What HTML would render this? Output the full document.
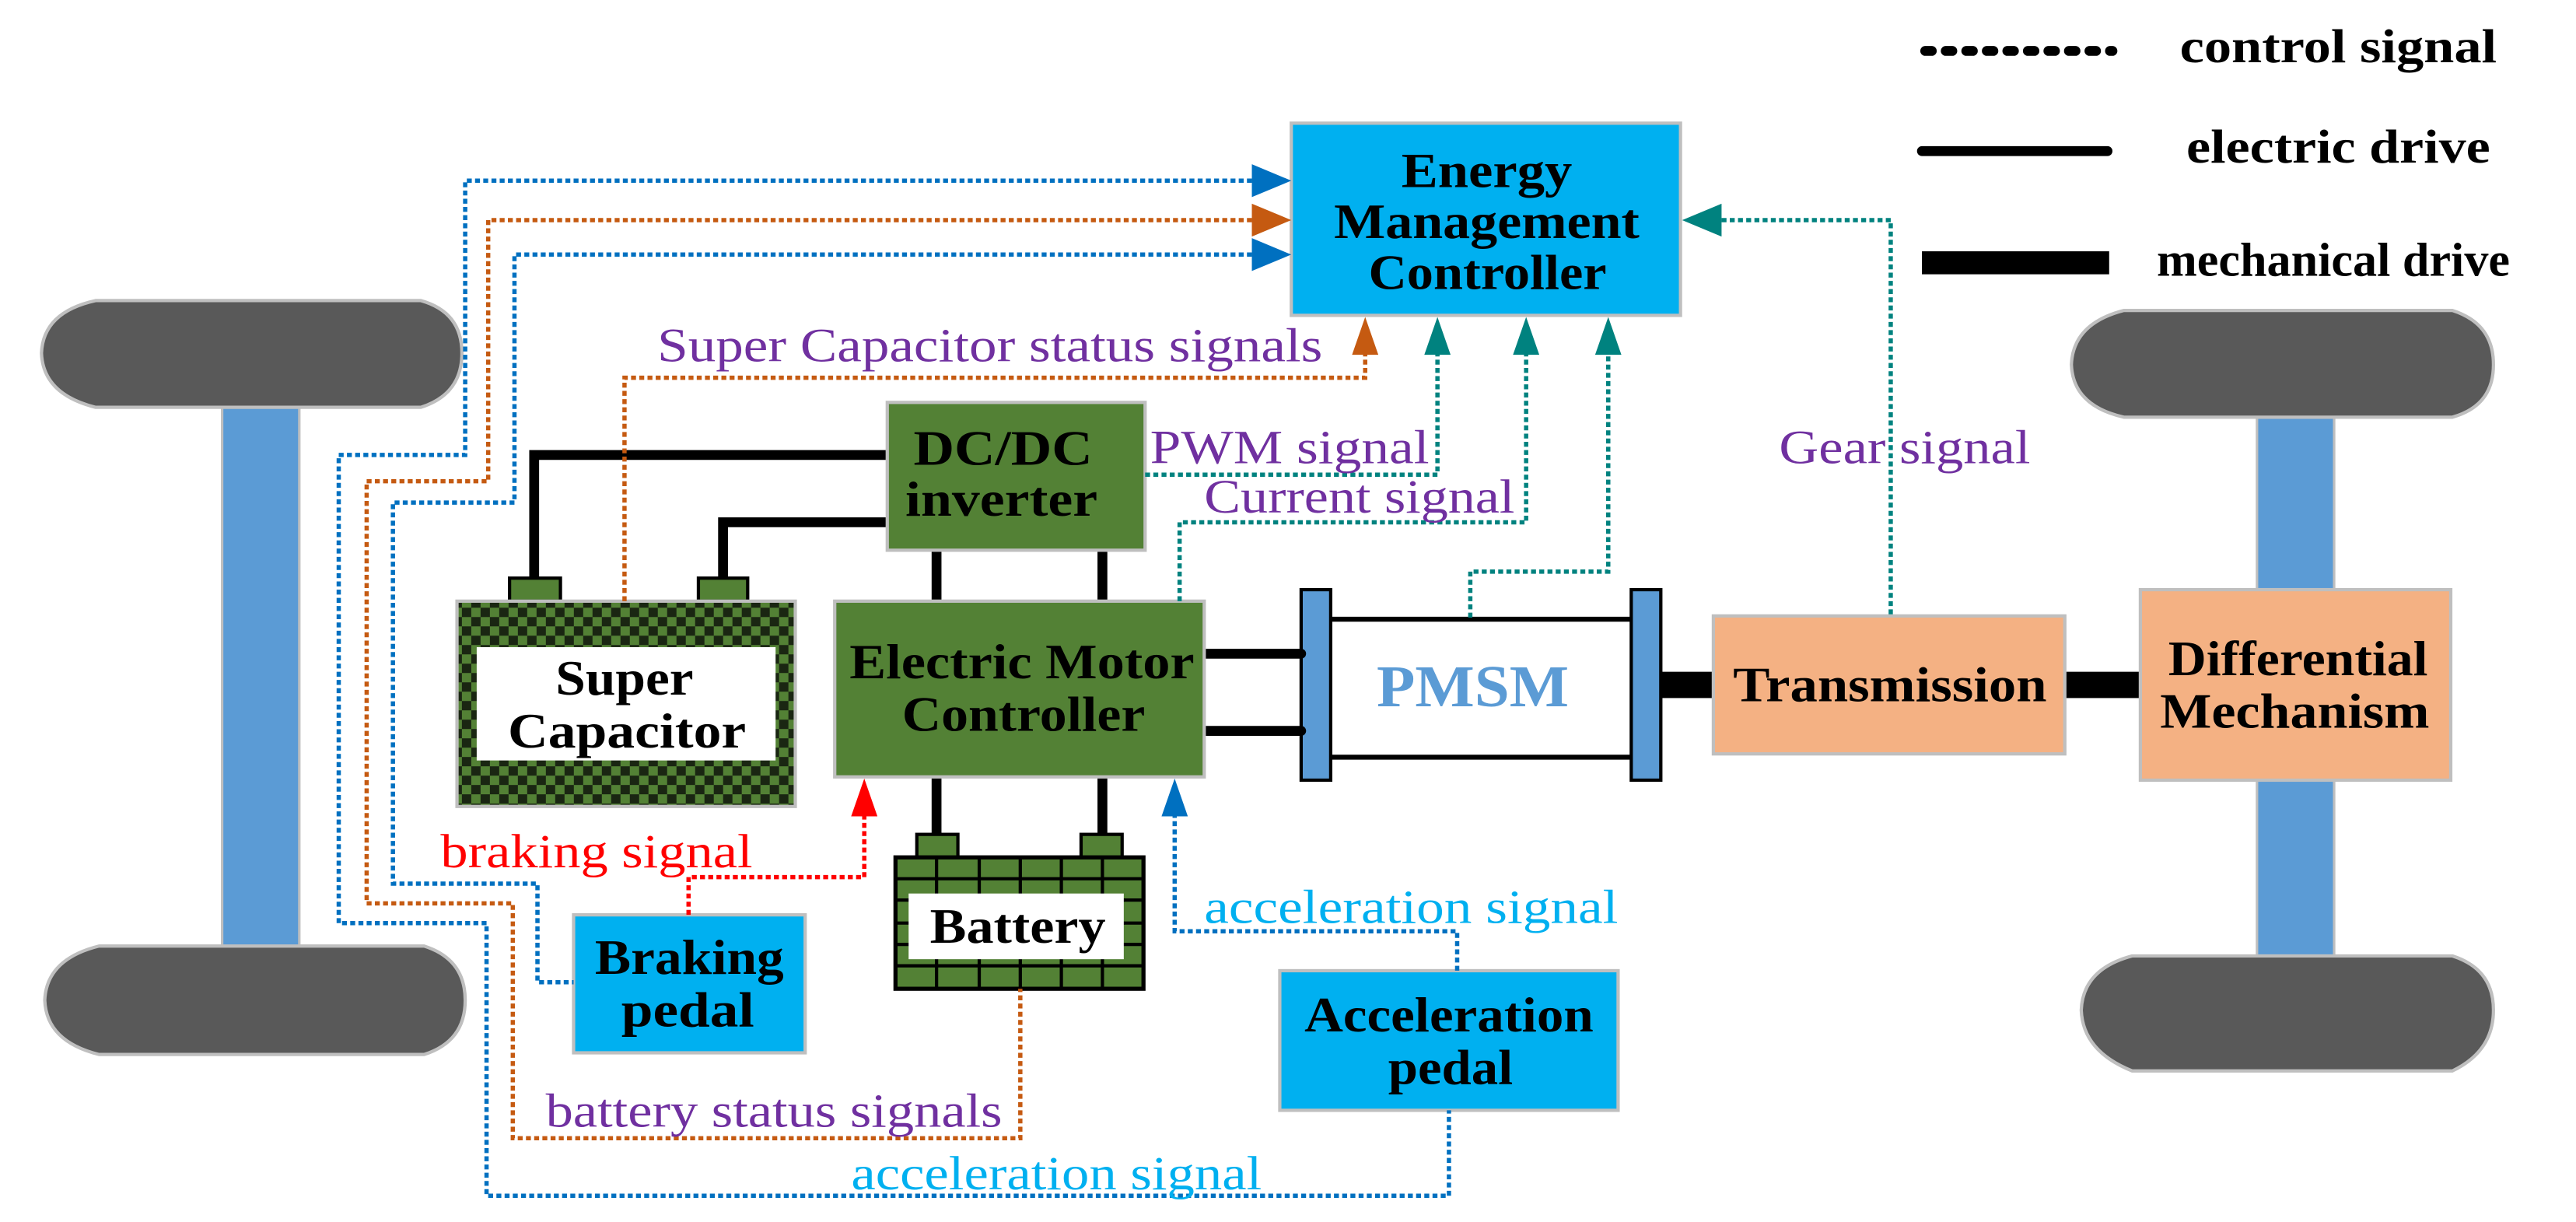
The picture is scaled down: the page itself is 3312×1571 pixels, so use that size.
<!DOCTYPE html>
<html><head><meta charset="utf-8"><style>html,body{margin:0;padding:0;background:#fff}svg{display:block}</style></head>
<body>
<svg xmlns="http://www.w3.org/2000/svg" width="3312" height="1571" viewBox="0 0 1568 744" font-family="'Liberation Serif', serif">
<defs>
<pattern id="chk" width="11.36" height="11.36" patternUnits="userSpaceOnUse" x="281" y="370">
<rect width="11.36" height="11.36" fill="#538135"/>
<rect width="5.68" height="5.68" fill="#1a2612"/>
<rect x="5.68" y="5.68" width="5.68" height="5.68" fill="#1a2612"/>
</pattern>
</defs>
<rect width="1568" height="744" fill="#fff"/>

<!-- Legend -->
<line x1="1172" y1="31" x2="1286" y2="31" stroke="#000" stroke-width="6" stroke-dasharray="4 8.5" stroke-linecap="round"/>
<text x="1327" y="38" font-size="29" font-weight="bold" textLength="193" lengthAdjust="spacingAndGlyphs">control signal</text>
<line x1="1170" y1="92" x2="1283" y2="92" stroke="#000" stroke-width="6" stroke-linecap="round"/>
<text x="1331" y="99" font-size="29" font-weight="bold" textLength="185" lengthAdjust="spacingAndGlyphs">electric drive</text>
<rect x="1170" y="153" width="114" height="14" fill="#000"/>
<text x="1313" y="168" font-size="29" font-weight="bold" textLength="215" lengthAdjust="spacingAndGlyphs">mechanical drive</text>

<!-- Left wheels -->
<rect x="135" y="246" width="47" height="332" fill="#5b9bd5" stroke="#bfbfbf" stroke-width="1.5"/>
<path d="M58,183 H256 Q281,190 281,215 Q281,240 256,248 H58 Q26,240 25,215 Q26,190 58,183 Z" fill="#595959" stroke="#bfbfbf" stroke-width="2"/>
<path d="M60,576 H258 Q283,584 283,609 Q283,634 258,642 H60 Q28,634 27,609 Q28,584 60,576 Z" fill="#595959" stroke="#bfbfbf" stroke-width="2"/>

<!-- Right wheels -->
<rect x="1374" y="252" width="47" height="332" fill="#5b9bd5" stroke="#bfbfbf" stroke-width="1.5"/>
<path d="M1293,189 H1493 Q1518,197 1518,222 Q1518,247 1493,254 H1293 Q1262,247 1261,222 Q1262,197 1293,189 Z" fill="#595959" stroke="#bfbfbf" stroke-width="2"/>
<path d="M1298,582 H1493 Q1518,590 1518,615 Q1518,640 1493,652 H1298 Q1268,640 1267,615 Q1268,590 1298,582 Z" fill="#595959" stroke="#bfbfbf" stroke-width="2"/>

<!-- Mechanical links -->
<rect x="1011" y="409" width="33" height="16" fill="#000"/>
<rect x="1257" y="409" width="47" height="16" fill="#000"/>

<g font-size="30" font-weight="bold">
<rect x="1303" y="359" width="189" height="116" fill="#f4b183" stroke="#bfbfbf" stroke-width="2"/>
<text x="1320" y="411" textLength="158" lengthAdjust="spacingAndGlyphs">Differential</text>
<text x="1315" y="443" textLength="164" lengthAdjust="spacingAndGlyphs">Mechanism</text>

<rect x="1043" y="375" width="214" height="84" fill="#f4b183" stroke="#bfbfbf" stroke-width="2"/>
<text x="1055" y="427" textLength="191" lengthAdjust="spacingAndGlyphs">Transmission</text>

<line x1="810" y1="377" x2="993" y2="377" stroke="#000" stroke-width="3"/>
<line x1="810" y1="461" x2="993" y2="461" stroke="#000" stroke-width="3"/>
<rect x="792" y="359" width="18" height="116" fill="#5b9bd5" stroke="#000" stroke-width="2"/>
<rect x="993" y="359" width="18" height="116" fill="#5b9bd5" stroke="#000" stroke-width="2"/>
<text x="838" y="430" font-size="36" fill="#5b9bd5" textLength="117" lengthAdjust="spacingAndGlyphs">PMSM</text>

<g stroke="#000" stroke-width="6" fill="none" stroke-linecap="round">
<line x1="733" y1="398" x2="792" y2="398"/>
<line x1="733" y1="445" x2="792" y2="445"/>
<line x1="570" y1="335" x2="570" y2="366"/>
<line x1="671" y1="335" x2="671" y2="366"/>
<line x1="570" y1="473" x2="570" y2="512"/>
<line x1="671" y1="473" x2="671" y2="512"/>
<polyline points="540,277 325,277 325,355"/>
<polyline points="540,318 440,318 440,355"/>
</g>

<rect x="540" y="245" width="157" height="90" fill="#538135" stroke="#bfbfbf" stroke-width="2"/>
<text x="556" y="283" textLength="109" lengthAdjust="spacingAndGlyphs">DC/DC</text>
<text x="551" y="314" textLength="117" lengthAdjust="spacingAndGlyphs">inverter</text>

<rect x="508" y="366" width="225" height="107" fill="#538135" stroke="#bfbfbf" stroke-width="2"/>
<text x="517" y="413" textLength="210" lengthAdjust="spacingAndGlyphs">Electric Motor</text>
<text x="549" y="445" textLength="148" lengthAdjust="spacingAndGlyphs">Controller</text>

<rect x="310" y="352" width="31" height="14" fill="#538135" stroke="#000" stroke-width="2"/>
<rect x="425" y="352" width="30" height="14" fill="#538135" stroke="#000" stroke-width="2"/>
<rect x="278" y="366" width="206" height="125" fill="url(#chk)" stroke="#bfbfbf" stroke-width="2"/>
<rect x="290" y="394" width="182" height="69" fill="#fff"/>
<text x="338" y="423" textLength="84" lengthAdjust="spacingAndGlyphs">Super</text>
<text x="309" y="455" textLength="145" lengthAdjust="spacingAndGlyphs">Capacitor</text>

<rect x="558" y="508" width="25" height="14" fill="#538135" stroke="#000" stroke-width="2"/>
<rect x="658" y="508" width="25" height="14" fill="#538135" stroke="#000" stroke-width="2"/>
<rect x="545" y="522" width="151" height="80" fill="#538135" stroke="#000" stroke-width="2.5"/>
<g stroke="#000" stroke-width="2">
<line x1="570" y1="522" x2="570" y2="602"/><line x1="596" y1="522" x2="596" y2="602"/>
<line x1="621" y1="522" x2="621" y2="602"/><line x1="646" y1="522" x2="646" y2="602"/>
<line x1="671" y1="522" x2="671" y2="602"/>
<line x1="545" y1="535" x2="696" y2="535"/><line x1="545" y1="548" x2="696" y2="548"/>
<line x1="545" y1="562" x2="696" y2="562"/><line x1="545" y1="575" x2="696" y2="575"/>
<line x1="545" y1="588" x2="696" y2="588"/>
</g>
<rect x="553" y="544" width="131" height="40" fill="#fff"/>
<text x="566" y="574" textLength="107" lengthAdjust="spacingAndGlyphs">Battery</text>

<rect x="349" y="557" width="141" height="84" fill="#00b0f0" stroke="#bfbfbf" stroke-width="2"/>
<text x="362" y="593" textLength="115" lengthAdjust="spacingAndGlyphs">Braking</text>
<text x="378" y="625" textLength="81" lengthAdjust="spacingAndGlyphs">pedal</text>

<rect x="779" y="591" width="206" height="85" fill="#00b0f0" stroke="#bfbfbf" stroke-width="2"/>
<text x="794" y="628" textLength="176" lengthAdjust="spacingAndGlyphs">Acceleration</text>
<text x="845" y="660" textLength="76" lengthAdjust="spacingAndGlyphs">pedal</text>

<rect x="786" y="75" width="237" height="117" fill="#00b0f0" stroke="#bfbfbf" stroke-width="2"/>
<text x="853" y="114" textLength="104" lengthAdjust="spacingAndGlyphs">Energy</text>
<text x="812" y="145" textLength="186" lengthAdjust="spacingAndGlyphs">Management</text>
<text x="833" y="176" textLength="145" lengthAdjust="spacingAndGlyphs">Controller</text>
</g>

<g fill="none" stroke-width="2.6" stroke-dasharray="3 2">
<polyline stroke="#0070c0" points="762,110 283,110 283,277 206,277 206,562 296,562 296,728 882,728 882,676"/>
<polyline stroke="#c55a11" points="762,134 297,134 297,293 223,293 223,550 312,550 312,693 621,693 621,602"/>
<polyline stroke="#0070c0" points="762,155 313,155 313,306 239,306 239,538 327,538 327,598 349,598"/>
<polyline stroke="#c55a11" points="380,366 380,230 831,230 831,208"/>
<polyline stroke="#00827f" points="697,289 875,289 875,208"/>
<polyline stroke="#00827f" points="718,366 718,318 929,318 929,208"/>
<polyline stroke="#00827f" points="895,376 895,348 979,348 979,208"/>
<polyline stroke="#00827f" points="1151,374 1151,134 1040,134"/>
<polyline stroke="#ff0000" points="419,557 419,534 526,534 526,490"/>
<polyline stroke="#0070c0" points="887,591 887,567 715,567 715,490"/>
</g>

<polygon points="762,100 786,110 762,120" fill="#0070c0"/>
<polygon points="762,124 786,134 762,144" fill="#c55a11"/>
<polygon points="762,145 786,155 762,165" fill="#0070c0"/>
<polygon points="1048,124 1024,134 1048,144" fill="#00827f"/>
<polygon points="823,216 831,193 839,216" fill="#c55a11"/>
<polygon points="867,216 875,193 883,216" fill="#00827f"/>
<polygon points="921,216 929,193 937,216" fill="#00827f"/>
<polygon points="971,216 979,193 987,216" fill="#00827f"/>
<polygon points="518,497 526,474 534,497" fill="#ff0000"/>
<polygon points="707,497 715,474 723,497" fill="#0070c0"/>

<g font-size="29">
<text x="400" y="220" fill="#7030a0" textLength="405" lengthAdjust="spacingAndGlyphs">Super Capacitor status signals</text>
<text x="700" y="282" fill="#7030a0" textLength="170" lengthAdjust="spacingAndGlyphs">PWM signal</text>
<text x="733" y="312" fill="#7030a0" textLength="189" lengthAdjust="spacingAndGlyphs">Current signal</text>
<text x="1083" y="282" fill="#7030a0" textLength="153" lengthAdjust="spacingAndGlyphs">Gear signal</text>
<text x="268" y="528" fill="#ff0000" textLength="190" lengthAdjust="spacingAndGlyphs">braking signal</text>
<text x="733" y="562" fill="#00b0f0" textLength="252" lengthAdjust="spacingAndGlyphs">acceleration signal</text>
<text x="332" y="686" fill="#7030a0" textLength="278" lengthAdjust="spacingAndGlyphs">battery status signals</text>
<text x="518" y="724" fill="#00b0f0" textLength="250" lengthAdjust="spacingAndGlyphs">acceleration signal</text>
</g>
</svg>
</body></html>
